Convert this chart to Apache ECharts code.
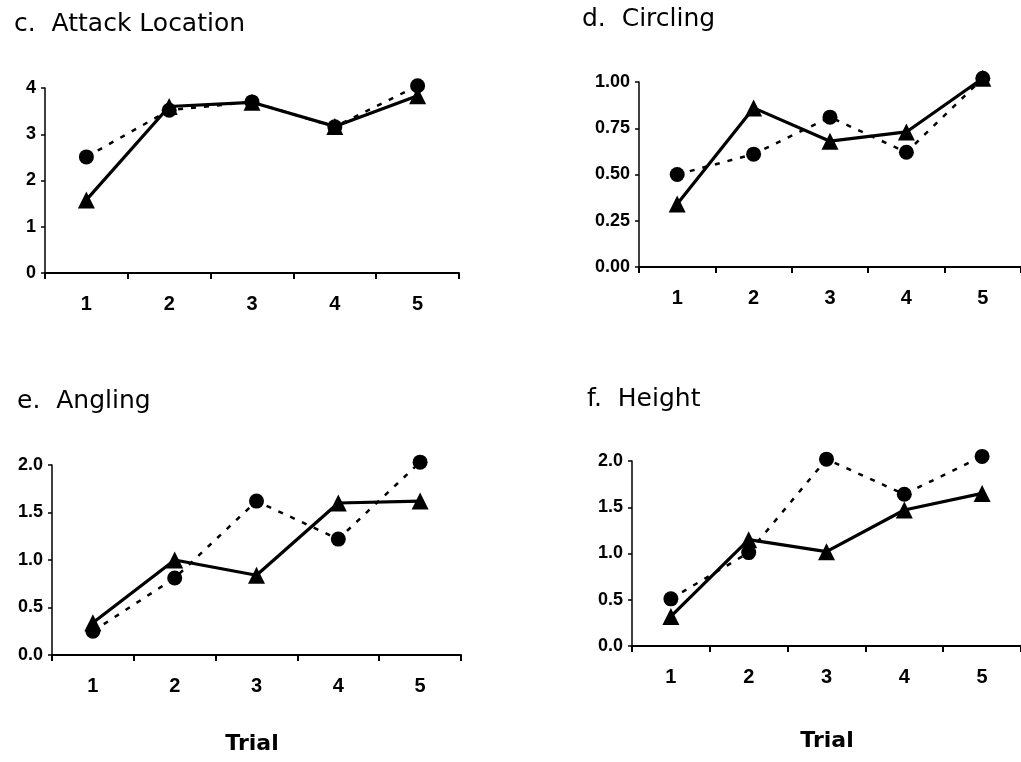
<!DOCTYPE html>
<html>
<head>
<meta charset="utf-8">
<script src="https://cdn.jsdelivr.net/npm/echarts@6/dist/echarts.min.js"></script>
<style>
html,body{margin:0;padding:0;background:#fff;}
#chart{width:1021px;height:762px;}
</style>
</head>
<body>
<div id="chart"></div>
<script>
const trials = ['1', '2', '3', '4', '5'];
const panelTitles = ['c.  Attack Location', 'd.  Circling', 'e.  Angling', 'f.  Height'];
const xAxisTitle = 'Trial';

// dotted line, circle markers
const attackCircle = [2.51, 3.52, 3.70, 3.16, 4.05];
const circlingCircle = [0.50, 0.61, 0.81, 0.62, 1.02];
const anglingCircle = [0.25, 0.81, 1.62, 1.22, 2.03];
const heightCircle = [0.51, 1.01, 2.02, 1.64, 2.05];

// solid line, triangle markers
const attackTriangle = [1.58, 3.60, 3.69, 3.17, 3.83];
const circlingTriangle = [0.34, 0.86, 0.68, 0.73, 1.02];
const anglingTriangle = [0.34, 1.00, 0.84, 1.60, 1.62];
const heightTriangle = [0.32, 1.15, 1.02, 1.47, 1.65];

const yRanges = [
  {min: 0, max: 4, interval: 1, dec: 0},
  {min: 0, max: 1, interval: 0.25, dec: 2},
  {min: 0, max: 2, interval: 0.5, dec: 1},
  {min: 0, max: 2, interval: 0.5, dec: 1}
];
const circleData = [attackCircle, circlingCircle, anglingCircle, heightCircle];
const triangleData = [attackTriangle, circlingTriangle, anglingTriangle, heightTriangle];

const grids = [
  {left: 45, top: 88, width: 414, height: 185},
  {left: 639, top: 82, width: 384, height: 185},
  {left: 52, top: 465, width: 409, height: 190},
  {left: 632, top: 461, width: 395, height: 185}
];
const titlePos = [[14, 24], [582, 19], [17, 401], [587, 399]];
const trialPos = [[252, 744], [827, 741]];

const FONT = '"Liberation Sans", Arial, sans-serif';
const TFONT = '"DejaVu Sans", Verdana, sans-serif';

const xAxes = [], yAxes = [], series = [];
grids.forEach((g, i) => {
  xAxes.push({
    type: 'category', gridIndex: i, data: trials, boundaryGap: true,
    axisLine: {lineStyle: {color: '#000', width: 2}},
    axisTick: {show: true, alignWithLabel: false, length: 6, lineStyle: {color: '#000', width: 2}},
    axisLabel: {color: '#000', fontSize: 20, fontWeight: 'bold', fontFamily: FONT, margin: 21},
    splitLine: {show: false}
  });
  const r = yRanges[i];
  yAxes.push({
    type: 'value', gridIndex: i, min: r.min, max: r.max, interval: r.interval,
    axisLine: {show: true, lineStyle: {color: '#000', width: 1.5}},
    axisTick: {show: true, length: 4, lineStyle: {color: '#000', width: 1.5}},
    axisLabel: {color: '#000', fontSize: 18, fontWeight: 'bold', fontFamily: FONT, margin: 9,
      formatter: v => v.toFixed(r.dec)},
    splitLine: {show: false}
  });
  series.push({
    type: 'line', xAxisIndex: i, yAxisIndex: i, data: circleData[i],
    symbol: 'circle', symbolSize: 15, z: 2, clip: false,
    lineStyle: {color: '#000', width: 2.5, type: [5, 8]},
    itemStyle: {color: '#000'}, animation: false
  });
  series.push({
    type: 'line', xAxisIndex: i, yAxisIndex: i, data: triangleData[i],
    symbol: 'triangle', symbolSize: 17, z: 3, clip: false,
    lineStyle: {color: '#000', width: 3.2, type: 'solid'},
    itemStyle: {color: '#000'}, animation: false
  });
});

const graphics = [];
panelTitles.forEach((t, i) => {
  graphics.push({type: 'text', x: titlePos[i][0], y: titlePos[i][1],
    style: {text: t, fill: '#000', font: '25px ' + TFONT, textAlign: 'left', textVerticalAlign: 'middle'}});
});
trialPos.forEach(p => {
  graphics.push({type: 'text', x: p[0], y: p[1],
    style: {text: xAxisTitle, fill: '#000', font: 'bold 22px ' + TFONT, textAlign: 'center', textVerticalAlign: 'middle'}});
});

const chart = echarts.init(document.getElementById('chart'), null, {renderer: 'canvas'});
chart.setOption({
  backgroundColor: '#fff',
  animation: false,
  grid: grids,
  xAxis: xAxes,
  yAxis: yAxes,
  series: series,
  graphic: graphics
});
</script>
</body>
</html>
